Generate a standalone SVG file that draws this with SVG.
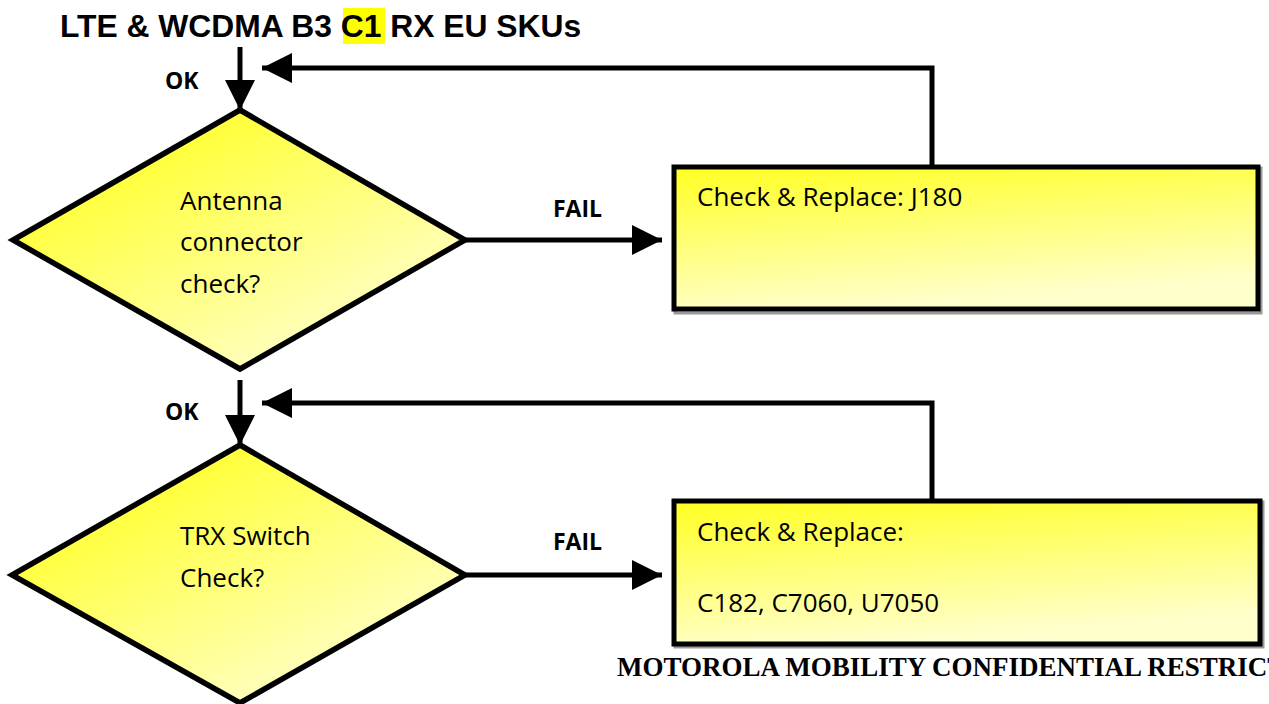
<svg xmlns="http://www.w3.org/2000/svg" width="1269" height="704" viewBox="0 0 1269 704">
<defs>
<linearGradient id="gd" x1="0.2" y1="0.2" x2="0.8" y2="0.9"><stop offset="0" stop-color="#FFFF33"/><stop offset="1" stop-color="#FFFFCC"/></linearGradient>
<linearGradient id="gb" x1="0" y1="0" x2="0.3" y2="1"><stop offset="0" stop-color="#FFFF22"/><stop offset="1" stop-color="#FFFFCC"/></linearGradient>
<marker id="ah" markerUnits="userSpaceOnUse" markerWidth="32" markerHeight="32" refX="30" refY="15" orient="auto"><path d="M0,0 L30,15 L0,30 Z" fill="#000"/></marker>
</defs>
<style>
.t{font-family:"Open Sans","Liberation Sans",sans-serif;font-size:26px;fill:#000}
.b{font-family:"Open Sans","Liberation Sans",sans-serif;font-size:23px;font-weight:bold;fill:#000}
.c{fill:none;stroke:#000;stroke-width:5}
.n{stroke:#000;stroke-width:5.5;stroke-linejoin:miter}
.r{stroke:#000;stroke-width:5}
</style>
<rect width="1269" height="704" fill="#fff"/>
<g id="title">
<rect x="343" y="8" width="42" height="36" fill="#FFFF00"/>
<text x="60" y="37" font-family="'Liberation Sans',Arial,sans-serif" font-size="31.8" font-weight="bold">LTE &amp; WCDMA B3 C1 RX EU SKUs</text>
</g>
<g id="connectors">
<line class="c" x1="240" y1="47" x2="240" y2="110" marker-end="url(#ah)"/>
<polyline class="c" points="932,166 932,68 262,68" marker-end="url(#ah)"/>
<line class="c" x1="465" y1="240" x2="662" y2="240" marker-end="url(#ah)"/>
<line class="c" x1="240" y1="380" x2="240" y2="445" marker-end="url(#ah)"/>
<polyline class="c" points="932,500 932,403 262,403" marker-end="url(#ah)"/>
<line class="c" x1="465" y1="575" x2="662" y2="575" marker-end="url(#ah)"/>
<text class="b" x="165" y="89">OK</text>
<text class="b" x="553" y="217">FAIL</text>
<text class="b" x="165" y="420">OK</text>
<text class="b" x="553" y="550">FAIL</text>
</g>
<g id="d1">
<polygon class="n" points="240,110 465,240 240,369 13,240" fill="url(#gd)"/>
<text class="t" x="180" y="210">Antenna</text>
<text class="t" x="180" y="251">connector</text>
<text class="t" x="180" y="293">check?</text>
</g>
<g id="b1">
<rect x="675" y="168" width="586" height="145" fill="none" stroke="#999" stroke-width="3"/>
<rect class="r" x="674" y="167" width="584" height="142" fill="url(#gb)"/>
<text class="t" x="697" y="206">Check &amp; Replace: J180</text>
</g>
<g id="d2">
<polygon class="n" points="240,445 465,575 240,703 12,575" fill="url(#gd)"/>
<text class="t" x="180" y="545">TRX Switch</text>
<text class="t" x="180" y="587">Check?</text>
</g>
<g id="b2">
<rect x="675" y="502" width="588" height="145" fill="none" stroke="#999" stroke-width="3"/>
<rect class="r" x="674" y="501" width="586" height="143" fill="url(#gb)"/>
<text class="t" x="697" y="541">Check &amp; Replace:</text>
<text class="t" x="697" y="612">C182, C7060, U7050</text>
</g>
<g id="footer">
<text x="617" y="676" font-family="'Liberation Serif','Times New Roman',serif" font-size="27" font-weight="bold">MOTOROLA MOBILITY CONFIDENTIAL RESTRICT</text>
</g>
</svg>
